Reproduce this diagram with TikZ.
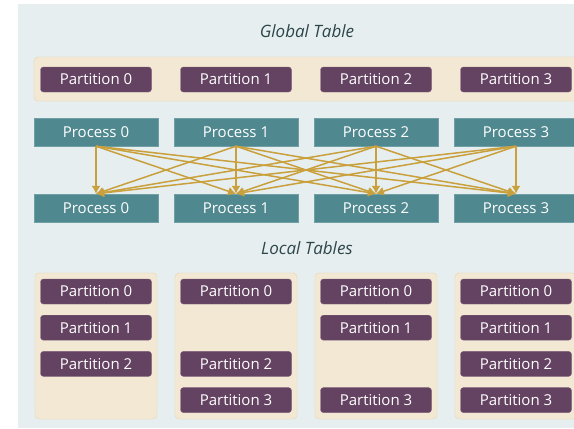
\documentclass[tikz,border=0pt]{standalone}
\usepackage{fontspec}
\setmainfont{Open Sans}
\usepackage{tikz}
\usetikzlibrary{arrows.meta,positioning}

\definecolor{panelbg}{RGB}{230,238,240}
\definecolor{tablefill}{RGB}{243,232,212}
\definecolor{tableline}{RGB}{232,212,170}
\definecolor{partfill}{RGB}{100,66,97}
\definecolor{partline}{RGB}{128,98,124}
\definecolor{procfill}{RGB}{79,137,143}
\definecolor{procline}{RGB}{110,160,165}
\definecolor{flowcol}{RGB}{201,160,60}
\definecolor{titlecol}{RGB}{45,70,75}

\begin{document}
\begin{tikzpicture}[x=1pt,y=-1pt,
    part/.style={draw=partline,fill=partfill,rounded corners=3pt,text=white,
      minimum width=111pt,minimum height=25pt,inner sep=0pt,
      font=\fontsize{15}{17}\selectfont},
    proc/.style={draw=procline,fill=procfill,text=white,
      minimum width=124pt,minimum height=28pt,inner sep=0pt,
      font=\fontsize{15}{17}\selectfont},
    table/.style={draw=tableline,fill=tablefill,rounded corners=4pt},
    title/.style={text=titlecol,font=\fontsize{17}{20}\itshape\selectfont},
    flow/.style={draw=flowcol,line width=1.5pt,-{Latex[length=8pt,width=9pt]}}]
  \clip (0,0) rectangle (574,429);
  \fill[panelbg] (18,4) rectangle (580,428);

  % Global table
  \node[title] (gtitle) at (307,31) {Global Table};
  \draw[table] (34,57) rectangle (590,101);
  \foreach \i in {0,...,3}
    \node[part] (gpart\i) at (96+140*\i,79.5) {Partition \i};

  % Processes
  \foreach \i in {0,...,3} {
    \node[proc] (ptop\i) at (96+140*\i,132) {Process \i};
    \node[proc] (pbot\i) at (96+140*\i,208) {Process \i};
  }
  \foreach \i in {0,...,3}
    \foreach \j in {0,...,3}
      \draw[flow] (ptop\i.south) -- (pbot\j.north);

  % Local tables
  \node[title] (ltitle) at (307,248) {Local Tables};
  \foreach \i in {0,...,3}
    \draw[table] (35+140*\i,273) rectangle +(122,146);
  \foreach \i/\r/\p in {0/0/0,0/1/1,0/2/2,
                        1/0/0,1/2/2,1/3/3,
                        2/0/0,2/1/1,2/3/3,
                        3/0/0,3/1/1,3/2/2,3/3/3}
    \node[part] (lpart\i\p) at (96+140*\i,291.5+36.2*\r) {Partition \p};
\end{tikzpicture}
\end{document}
